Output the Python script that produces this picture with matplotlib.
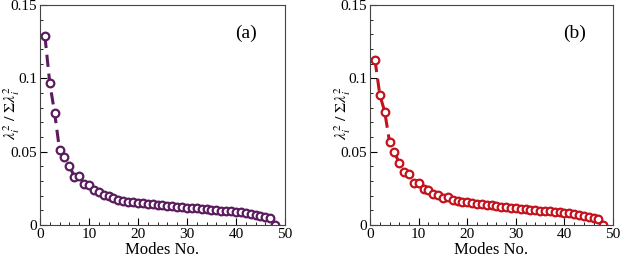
import numpy as np
import matplotlib.pyplot as plt
from matplotlib.ticker import MultipleLocator

plt.rcParams['font.family'] = ['Liberation Serif', 'DejaVu Serif']
plt.rcParams['mathtext.fontset'] = 'stix'

modes = np.arange(1, 49)

energy_a = [0.129, 0.0967, 0.0762, 0.0511, 0.0463, 0.0404, 0.0331, 0.0336,
            0.0279, 0.0270, 0.0240, 0.0225, 0.0206, 0.0195, 0.0184, 0.0172,
            0.0163, 0.0159, 0.0154, 0.0150, 0.0147, 0.0144, 0.0141, 0.0138,
            0.0135, 0.0132, 0.0129, 0.0126, 0.0122, 0.0119, 0.0116, 0.0113,
            0.0110, 0.0108, 0.0105, 0.0102, 0.0099, 0.0096, 0.0093, 0.0090,
            0.0086, 0.0082, 0.0077, 0.0071, 0.0064, 0.0056, 0.0045, 0.0]

energy_b = [0.1126, 0.0887, 0.0774, 0.0567, 0.0495, 0.0424, 0.0361, 0.0345,
            0.0288, 0.0286, 0.0243, 0.0236, 0.0213, 0.0206, 0.0186, 0.0188,
            0.0172, 0.0166, 0.0159, 0.0154, 0.0150, 0.0146, 0.0142, 0.0138,
            0.0134, 0.0130, 0.0126, 0.0122, 0.0118, 0.0114, 0.0111, 0.0108,
            0.0105, 0.0102, 0.0099, 0.0096, 0.0093, 0.0090, 0.0087, 0.0083,
            0.0079, 0.0075, 0.0070, 0.0064, 0.0057, 0.0050, 0.0038, 0.0]

panels = [('(a)', energy_a, '#5b1b5f'), ('(b)', energy_b, '#c4121c')]
positions = [[0.0644, 0.114, 0.3945, 0.866], [0.596, 0.114, 0.391, 0.866]]

fig = plt.figure(figsize=(6.21, 2.54), dpi=100)

for (tag, vals, col), pos in zip(panels, positions):
    ax = fig.add_axes(pos)
    ax.plot(modes, vals, linestyle=(0, (4, 2.2)), color=col, lw=2.2,
            marker='o', ms=5.5, mfc='white', mec=col, mew=1.6)
    ax.set_xlim(0, 50)
    ax.set_ylim(0, 0.15)
    ax.set_xticks([0, 10, 20, 30, 40, 50])
    ax.set_yticks([0, 0.05, 0.1, 0.15])
    ax.set_yticklabels(['0', '0.05', '0.1', '0.15'])
    ax.xaxis.set_minor_locator(MultipleLocator(2))
    ax.yaxis.set_minor_locator(MultipleLocator(0.01))
    ax.tick_params(which='both', direction='in', top=False, right=False,
                   labelsize=11, pad=2)
    ax.tick_params(which='major', length=5)
    ax.tick_params(which='minor', length=2.5)
    for s in ax.spines.values():
        s.set_color('#444444')
    ax.set_xlabel('Modes No.', fontsize=12)
    ax.xaxis.set_label_coords(0.5, -0.075)
    ax.set_ylabel(r'$\lambda_i^2\ /\ \Sigma\lambda_i^2$', fontsize=11.5)
    ax.yaxis.set_label_coords(-0.072, 0.51)
    ax.text(0.84, 0.87, tag, transform=ax.transAxes, fontsize=14,
            ha='center', va='center')

fig.savefig('out.png', dpi=100)
